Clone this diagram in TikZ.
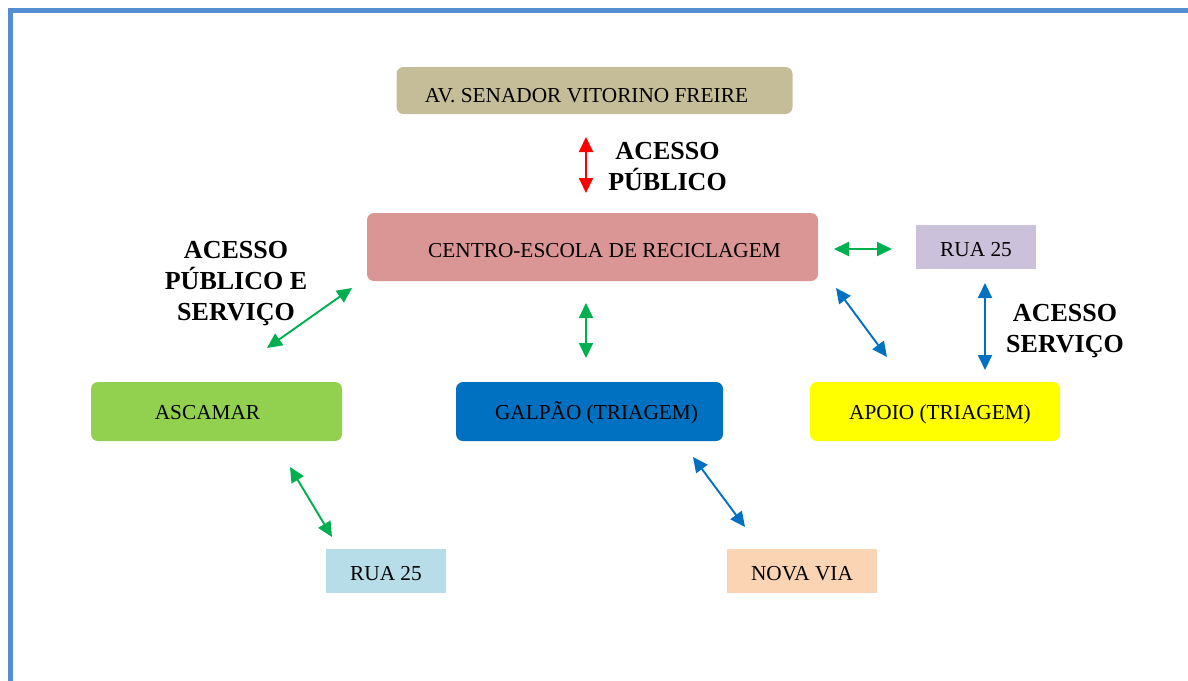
\documentclass[tikz,border=0pt]{standalone}
\usepackage{fontspec}
\setmainfont{Liberation Serif}
\usetikzlibrary{arrows.meta}
\definecolor{frameblue}{HTML}{558ED5}
\definecolor{avtan}{HTML}{C4BD97}
\definecolor{centrorose}{HTML}{D99694}
\definecolor{ruapurple}{HTML}{CCC1DA}
\definecolor{ascgreen}{HTML}{92D050}
\definecolor{galblue}{HTML}{0070C0}
\definecolor{apoioyellow}{HTML}{FFFF00}
\definecolor{rualight}{HTML}{B7DEE8}
\definecolor{novapeach}{HTML}{FBD4B4}
\definecolor{arrgreen}{HTML}{00B050}
\definecolor{arrblue}{HTML}{0070C0}
\definecolor{arrred}{HTML}{FF0000}
\tikzset{
  x=1pt, y=-1pt,
  place/.style={draw=none, inner sep=0pt, font=\fontsize{21.3}{25}\selectfont},
  boxtext/.style={place, text height=14pt, text depth=0pt},
  roundbox/.style={place, rounded corners=7pt},
  squarebox/.style={place},
  accesslabel/.style={font=\bfseries\fontsize{26}{31}\selectfont, align=center, inner sep=0pt},
  link/.style={line width=1.9pt, {Triangle[length=15pt,width=14pt]}-{Triangle[length=15pt,width=14pt]}},
}
\begin{document}
\begin{tikzpicture}
\useasboundingbox (0,0) rectangle (1188,680);
% page frame
\draw[frameblue, line width=5pt] (10.5,690) -- (10.5,10.5) -- (1200,10.5);

% boxes
\node[roundbox, fill=avtan, minimum width=396pt, minimum height=47pt,
  label={[boxtext, xshift=-8pt, yshift=-4.5pt]center:AV. SENADOR VITORINO FREIRE}] (av) at (594.5,90.5) {};
\node[roundbox, fill=centrorose, minimum width=451pt, minimum height=68pt,
  label={[boxtext, xshift=12pt, yshift=-3pt]center:CENTRO-ESCOLA DE RECICLAGEM}] (centro) at (592.5,247) {};
\node[squarebox, fill=ruapurple, minimum width=120pt, minimum height=44pt,
  label={[boxtext, yshift=-2pt]center:RUA 25}] (ruaA) at (976,247) {};
\node[roundbox, fill=ascgreen, minimum width=251pt, minimum height=59pt,
  label={[boxtext, xshift=-9pt, yshift=-1pt]center:ASCAMAR}] (ascamar) at (216.5,411.5) {};
\node[roundbox, fill=galblue, minimum width=267pt, minimum height=59pt,
  label={[boxtext, xshift=7pt, yshift=-0.5pt]center:GALPÃO (TRIAGEM)}] (galpao) at (589.5,411.5) {};
\node[roundbox, fill=apoioyellow, minimum width=250pt, minimum height=59pt,
  label={[boxtext, xshift=5pt, yshift=-0.5pt]center:APOIO (TRIAGEM)}] (apoio) at (935,411.5) {};
\node[squarebox, fill=rualight, minimum width=120pt, minimum height=44pt,
  label={[boxtext, yshift=-2.5pt]center:RUA 25}] (ruaB) at (386,571) {};
\node[squarebox, fill=novapeach, minimum width=150pt, minimum height=44pt,
  label={[boxtext, yshift=-2.5pt]center:NOVA VIA}] (novavia) at (802,571) {};

% access labels
\node[accesslabel] (lblpub) at (667.5,167) {ACESSO\\PÚBLICO};
\node[accesslabel] (lblpubserv) at (236,284) {ACESSO\\PÚBLICO E\\SERVIÇO};
\node[accesslabel] (lblserv) at (1065,331) {ACESSO\\SERVIÇO};

% arrow end points
\coordinate (r1) at (586,137);   \coordinate (r2) at (586,193);
\coordinate (g1) at (834,249);   \coordinate (g2) at (892,249);
\coordinate (b1) at (836,288);   \coordinate (b2) at (887,357);
\coordinate (b3) at (985,283);   \coordinate (b4) at (985,370);
\coordinate (g3) at (352,288);   \coordinate (g4) at (267,348);
\coordinate (g5) at (586,303);   \coordinate (g6) at (586,358);
\coordinate (g7) at (290,467);   \coordinate (g8) at (332,537);
\coordinate (b5) at (693,457);   \coordinate (b6) at (745,527);

% connectors
\draw[link, arrred] (r1) -- (r2);
\draw[link, arrgreen] (g1) -- (g2);
\draw[link, arrblue] (b1) -- (b2);
\draw[link, arrblue] (b3) -- (b4);
\draw[link, arrgreen] (g3) -- (g4);
\draw[link, arrgreen] (g5) -- (g6);
\draw[link, arrgreen] (g7) -- (g8);
\draw[link, arrblue] (b5) -- (b6);
\end{tikzpicture}
\end{document}
